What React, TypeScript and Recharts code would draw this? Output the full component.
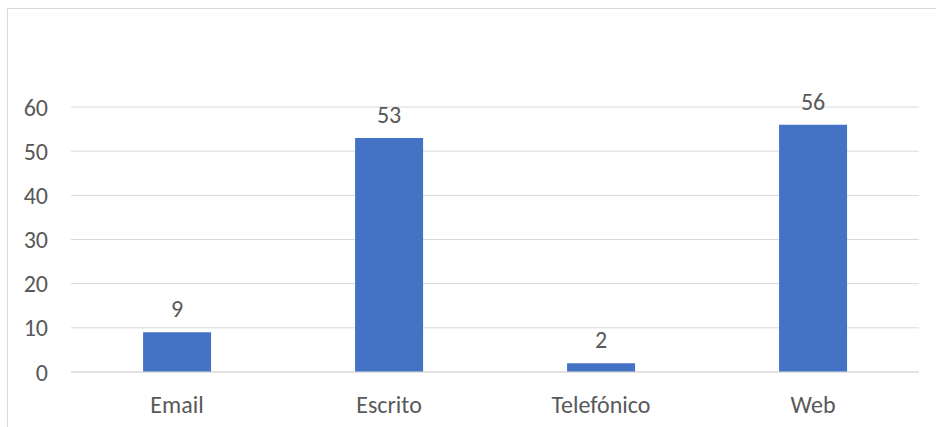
import { Bar, BarChart, CartesianGrid, LabelList, XAxis, YAxis } from "recharts";

const categories = ["Email", "Escrito", "Telefónico", "Web"];
const counts = [9, 53, 2, 56];
const yTicks = [0, 10, 20, 30, 40, 50, 60];

const data = categories.map((name, i) => ({ name, value: counts[i] }));

const FONT = "Carlito, Calibri, 'Open Sans', sans-serif";
const TEXT = "#595959";
const SIZE = 24;

export default function App() {
  return (
    <div style={{ position: "fixed", left: 0, top: 0, width: 936, height: 427, background: "#fff", overflow: "hidden" }}>
      <div
        style={{
          position: "absolute",
          left: 7,
          top: 8,
          width: 960,
          height: 460,
          border: "1px solid #D9D9D9",
          boxSizing: "border-box",
        }}
      />
      <div style={{ position: "absolute", left: 0, top: 0 }}>
        <BarChart
          width={936}
          height={427}
          data={data}
          margin={{ top: 107, right: 17, bottom: 0, left: 0 }}
          barCategoryGap="34%"
        >
          <CartesianGrid vertical={false} stroke="#D9D9D9" strokeWidth={1} />
          <XAxis
            dataKey="name"
            height={55}
            axisLine={{ stroke: "#D9D9D9" }}
            tickLine={false}
            tickSize={0}
            tickMargin={24}
            tick={{ fill: TEXT, fontSize: SIZE, fontFamily: FONT }}
          />
          <YAxis
            width={71}
            domain={[0, 60]}
            ticks={yTicks}
            axisLine={false}
            tickLine={false}
            tickSize={0}
            tickMargin={23}
            tick={{ fill: TEXT, fontSize: SIZE, fontFamily: FONT }}
          />
          <Bar dataKey="value" fill="#4472C4" isAnimationActive={false}>
            <LabelList
              dataKey="value"
              position="top"
              offset={15}
              fill={TEXT}
              fontSize={SIZE}
              fontFamily={FONT}
            />
          </Bar>
        </BarChart>
      </div>
    </div>
  );
}
